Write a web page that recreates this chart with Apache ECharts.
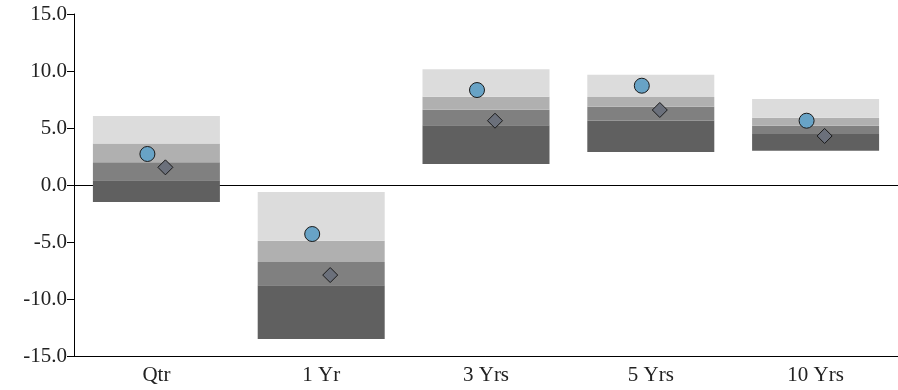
<!DOCTYPE html>
<html><head><meta charset="utf-8">
<script src="https://cdn.jsdelivr.net/npm/echarts@6/dist/echarts.min.js"></script>
<style>html,body{margin:0;padding:0;background:#fff}#c{width:898px;height:390px}</style>
</head><body><div id="c"></div>
<script>
var categories = ['Qtr', '1 Yr', '3 Yrs', '5 Yrs', '10 Yrs'];
var yTicks = [-15, -10, -5, 0, 5, 10, 15];
var bandBottom = [-1.5, -13.5, 1.85, 2.9, 3.0];
var band75 = [0.42, -8.8, 5.25, 5.65, 4.47];
var band50 = [2.0, -6.75, 6.6, 6.87, 5.2];
var band25 = [3.65, -4.88, 7.75, 7.72, 5.9];
var bandTop = [6.05, -0.62, 10.15, 9.68, 7.55];
var circleVals = [2.72, -4.3, 8.33, 8.71, 5.64];
var diamondVals = [1.55, -7.9, 5.64, 6.58, 4.3];

var font = '"Liberation Serif", "DejaVu Serif", serif';
function diff(a, b) { return a.map(function (v, i) { return +(v - b[i]).toFixed(4); }); }
var bandColors = ['#606060', '#808080', '#b0b0b0', '#dcdcdc'];
var layers = [diff(band75, bandBottom), diff(band50, band75), diff(band25, band50), diff(bandTop, band25)];

var series = [{
  type: 'bar', stack: 'r', stackStrategy: 'all', data: bandBottom, barWidth: 127,
  itemStyle: { color: 'rgba(0,0,0,0)' }, silent: true
}];
layers.forEach(function (d, i) {
  series.push({ type: 'bar', stack: 'r', stackStrategy: 'all', data: d, barWidth: 127, itemStyle: { color: bandColors[i] } });
});
series.push({
  type: 'scatter', data: circleVals, symbol: 'circle', symbolSize: 15, symbolOffset: [-9, 0], z: 5,
  itemStyle: { color: '#68a3c6', borderColor: '#1a1a1a', borderWidth: 1, opacity: 1 }
});
series.push({
  type: 'scatter', data: diamondVals, symbol: 'diamond', symbolSize: 15, symbolOffset: [9, 0], z: 5,
  itemStyle: { color: '#6b707b', borderColor: '#1a1a1a', borderWidth: 1, opacity: 1 }
});

var chart = echarts.init(document.getElementById('c'), null, { renderer: 'canvas' });
chart.setOption({
  animation: false,
  grid: { left: 74, right: 0, top: 14, bottom: 34, containLabel: false },
  xAxis: [{
    type: 'category', data: categories, position: 'bottom',
    axisLine: { onZero: false, lineStyle: { color: '#000', width: 1 } },
    axisTick: { alignWithLabel: true, length: 8, lineStyle: { color: '#000' } },
    axisLabel: { color: '#222', fontFamily: font, fontSize: 21, margin: 9 },
    splitLine: { show: false }
  }, {
    type: 'category', data: categories, position: 'bottom',
    axisLine: { onZero: true, onZeroAxisIndex: 0, lineStyle: { color: '#000', width: 1 } },
    axisTick: { show: false }, axisLabel: { show: false }, splitLine: { show: false }
  }],
  yAxis: {
    type: 'value', min: yTicks[0], max: yTicks[yTicks.length - 1], interval: 5,
    axisLine: { show: true, lineStyle: { color: '#000', width: 1 } },
    axisTick: { show: true, length: 7, lineStyle: { color: '#000' } },
    axisLabel: { color: '#222', fontFamily: font, fontSize: 21, margin: 7, formatter: function (v) { return v.toFixed(1); } },
    splitLine: { show: false }
  },
  series: series
});
</script></body></html>
